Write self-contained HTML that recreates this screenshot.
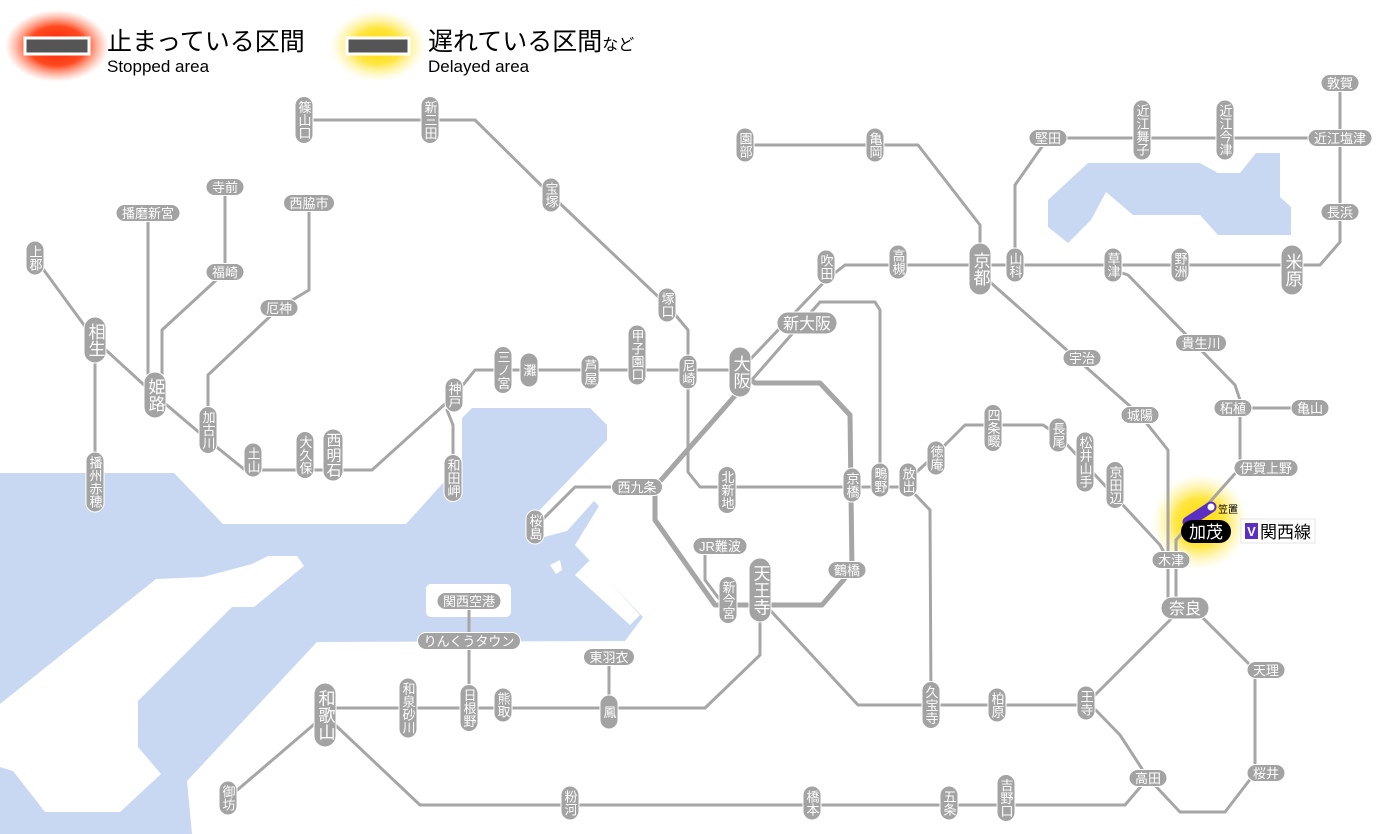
<!DOCTYPE html>
<html><head><meta charset="utf-8"><style>
html,body{margin:0;padding:0;background:#fff;}
svg{display:block;font-family:"Liberation Sans","Noto Sans CJK JP",sans-serif;}
.l{fill:none;stroke:#a6a6a6;stroke-width:3;stroke-linejoin:round;stroke-linecap:round;}
.ll{fill:none;stroke:#a6a6a6;stroke-width:5;stroke-linejoin:round;}
.s rect{fill:#a3a3a3;stroke:#fff;stroke-width:1;}
.s text{fill:#fff;font-size:13px;}
.v{writing-mode:vertical-rl;text-anchor:middle;}
.h{text-anchor:middle;}
.b{font-size:17px !important;}
</style></head><body>
<svg width="1400" height="834" viewBox="0 0 1400 834" xmlns="http://www.w3.org/2000/svg">
<defs>
<radialGradient id="rg"><stop offset="0" stop-color="#ff2000"/><stop offset="0.55" stop-color="#ff4a20"/><stop offset="1" stop-color="#ff8060" stop-opacity="0"/></radialGradient>
<radialGradient id="yg"><stop offset="0" stop-color="#ffd800"/><stop offset="0.5" stop-color="#ffe640"/><stop offset="1" stop-color="#fff3a0" stop-opacity="0"/></radialGradient>
</defs>
<!-- water -->
<g fill="#c9d8f2">
<polygon points="0,473 174,473 223,524 406,524 462,462 462,418 472,408 590,408 607,425 607,440 536,514 533,540 567,531 594,501 599,506 575,545 643,617 625,641 317,642 187,781 192,834 0,834"/>
<polygon points="1048,200 1088,163 1200,163 1218,173 1240,173 1256,153 1280,153 1280,197 1291,207 1291,235 1218,235 1200,215 1133,215 1106,192 1091,220 1068,243 1048,227"/>
</g>
<g fill="#fff">
<polygon points="0,704 156,579 203,577 252,564 268,556 297,556 304,566 254,607 232,607 138,701 138,747 161,774 120,812 45,812 13,771 0,767"/>
<rect x="426" y="584" width="85" height="33" rx="5"/>
<polygon points="550,565 560,560 562,570 556,574"/>
<polygon points="575,575 590,560 640,615 630,625"/>
</g>
<!-- legend -->
<ellipse cx="57" cy="46" rx="52" ry="36" fill="url(#rg)"/>
<rect x="25" y="38" width="64" height="16" fill="#555" stroke="#fff" stroke-width="3"/>
<text x="107" y="50" font-size="25" fill="#000">止まっている区間</text>
<text x="107" y="72" font-size="17" fill="#000">Stopped area</text>
<ellipse cx="378" cy="46" rx="48" ry="36" fill="url(#yg)"/>
<rect x="347" y="38" width="62" height="16" fill="#555" stroke="#fff" stroke-width="3"/>
<text x="428" y="50" font-size="25" fill="#000">遅れている区間<tspan font-size="16">など</tspan></text>
<text x="428" y="72" font-size="17" fill="#000">Delayed area</text>
<!-- kamo glow -->
<circle cx="1200" cy="522" r="48" fill="url(#yg)"/>
<!-- lines -->
<polyline class="l" points="304,120 475,120 551,195 667,305 688,330 688,472 700,487 908,487"/>
<polyline class="l" points="35,258 95,340 155,395 208,440 245,470 372,470 455,395 475,370 740,370"/>
<polyline class="l" points="447,410 453,425 453,478"/>
<polyline class="l" points="95,340 95,482"/>
<polyline class="l" points="148,213 148,395"/>
<polyline class="l" points="225,187 225,272 162,330 162,395"/>
<polyline class="l" points="309,203 309,290 279,308 208,375 208,430"/>
<polyline class="ll" points="740,372 755,383 820,383 850,415 852,570 822,605 715,605 655,520 655,487 740,390"/>
<polyline class="l" points="637,487 575,487 535,527"/>
<polyline class="l" points="740,370 826,280 845,265 1320,265 1340,242 1340,83"/>
<polyline class="l" points="750,382 820,302 875,302 880,310 880,480"/>
<polyline class="l" points="745,145 918,145 980,225 980,265"/>
<polyline class="l" points="1015,265 1015,185 1048,138 1340,138"/>
<polyline class="l" points="990,282 1140,415 1168,450 1168,608"/>
<polyline class="l" points="1113,270 1128,275 1235,385 1240,400 1240,468 1176,540 1176,608"/>
<polyline class="l" points="1240,408 1310,408"/>
<polyline class="l" points="1200,615 1255,670 1255,773 1225,812 1180,812 1148,778 1120,735 1086,700"/>
<polyline class="l" points="1175,615 1093,697"/>
<polyline class="l" points="770,610 858,705 1086,705"/>
<polyline class="l" points="908,487 930,510 931,705"/>
<polyline class="l" points="908,480 935,455 965,425 1043,425 1058,435 1160,545 1168,560"/>
<polyline class="l" points="705,546 705,580 720,600"/>
<polyline class="l" points="760,620 760,655 705,708 325,708"/>
<polyline class="l" points="609,657 609,708"/>
<polyline class="l" points="469,601 469,708"/>
<polyline class="l" points="325,715 228,798"/>
<polyline class="l" points="330,720 420,805 1125,805 1148,778"/>
<!-- stations vertical -->
<g class="s">
<rect x="295" y="96.5" width="18" height="47" rx="9"/><text class="v" x="304" y="120">篠山口</text>
<rect x="421" y="96.5" width="18" height="47" rx="9"/><text class="v" x="430" y="120">新三田</text>
<rect x="542" y="178" width="18" height="34" rx="9"/><text class="v" x="551" y="195">宝塚</text>
<rect x="658" y="288" width="18" height="34" rx="9"/><text class="v" x="667" y="305">塚口</text>
<rect x="679" y="355" width="18" height="34" rx="9"/><text class="v" x="688" y="372">尼崎</text>
<rect x="628" y="325" width="18" height="60" rx="9"/><text class="v" x="637" y="355">甲子園口</text>
<rect x="581" y="355" width="18" height="34" rx="9"/><text class="v" x="590" y="372">芦屋</text>
<rect x="520" y="353" width="18" height="34" rx="9"/><text class="v" x="529" y="370">灘</text>
<rect x="494" y="346.5" width="18" height="47" rx="9"/><text class="v" x="503" y="370">三ノ宮</text>
<rect x="445" y="378" width="18" height="34" rx="9"/><text class="v" x="454" y="395">神戸</text>
<rect x="444" y="454.5" width="18" height="47" rx="9"/><text class="v" x="453" y="478">和田岬</text>
<rect x="323" y="429" width="20" height="52" rx="10"/><text class="v" x="333" y="455" style="font-size:15px">西明石</text>
<rect x="296" y="431.5" width="18" height="47" rx="9"/><text class="v" x="305" y="455">大久保</text>
<rect x="244" y="443" width="18" height="34" rx="9"/><text class="v" x="253" y="460">土山</text>
<rect x="199" y="406.5" width="18" height="47" rx="9"/><text class="v" x="208" y="430">加古川</text>
<rect x="26" y="241" width="18" height="34" rx="9"/><text class="v" x="35" y="258">上郡</text>
<rect x="86" y="452" width="18" height="60" rx="9"/><text class="v" x="95" y="482">播州赤穂</text>
<rect x="817" y="250" width="18" height="34" rx="9"/><text class="v" x="826" y="267">吹田</text>
<rect x="889" y="245" width="18" height="34" rx="9"/><text class="v" x="898" y="262">高槻</text>
<rect x="1006" y="248" width="18" height="34" rx="9"/><text class="v" x="1015" y="265">山科</text>
<rect x="736" y="128" width="18" height="34" rx="9"/><text class="v" x="745" y="145">園部</text>
<rect x="866" y="128" width="18" height="34" rx="9"/><text class="v" x="875" y="145">亀岡</text>
<rect x="1133" y="100" width="18" height="60" rx="9"/><text class="v" x="1142" y="130">近江舞子</text>
<rect x="1216" y="100" width="18" height="60" rx="9"/><text class="v" x="1225" y="130">近江今津</text>
<rect x="1171" y="248" width="18" height="34" rx="9"/><text class="v" x="1180" y="265">野洲</text>
<rect x="1104" y="248" width="18" height="34" rx="9"/><text class="v" x="1113" y="265">草津</text>
<rect x="1077" y="686" width="18" height="34" rx="9"/><text class="v" x="1086" y="703">王寺</text>
<rect x="988" y="688" width="18" height="34" rx="9"/><text class="v" x="997" y="705">柏原</text>
<rect x="922" y="681.5" width="18" height="47" rx="9"/><text class="v" x="931" y="705">久宝寺</text>
<rect x="984" y="404.5" width="18" height="47" rx="9"/><text class="v" x="993" y="428">四条畷</text>
<rect x="927" y="441" width="18" height="34" rx="9"/><text class="v" x="936" y="458">徳庵</text>
<rect x="1049" y="418" width="18" height="34" rx="9"/><text class="v" x="1058" y="435">長尾</text>
<rect x="1076" y="432" width="18" height="60" rx="9"/><text class="v" x="1085" y="462">松井山手</text>
<rect x="1106" y="461.5" width="18" height="47" rx="9"/><text class="v" x="1115" y="485">京田辺</text>
<rect x="899" y="463" width="18" height="34" rx="9"/><text class="v" x="908" y="480">放出</text>
<rect x="871" y="463" width="18" height="34" rx="9"/><text class="v" x="880" y="480">鴫野</text>
<rect x="843" y="468" width="18" height="34" rx="9"/><text class="v" x="852" y="485">京橋</text>
<rect x="718" y="466.5" width="18" height="47" rx="9"/><text class="v" x="727" y="490">北新地</text>
<rect x="719" y="576.5" width="18" height="47" rx="9"/><text class="v" x="728" y="600">新今宮</text>
<rect x="526" y="510" width="18" height="34" rx="9"/><text class="v" x="535" y="527">桜島</text>
<rect x="600" y="695" width="18" height="34" rx="9"/><text class="v" x="609" y="712">鳳</text>
<rect x="494" y="688" width="18" height="34" rx="9"/><text class="v" x="503" y="705">熊取</text>
<rect x="460" y="684.5" width="18" height="47" rx="9"/><text class="v" x="469" y="708">日根野</text>
<rect x="399" y="678" width="18" height="60" rx="9"/><text class="v" x="408" y="708">和泉砂川</text>
<rect x="219" y="781" width="18" height="34" rx="9"/><text class="v" x="228" y="798">御坊</text>
<rect x="561" y="786" width="18" height="34" rx="9"/><text class="v" x="570" y="803">粉河</text>
<rect x="803" y="786" width="18" height="34" rx="9"/><text class="v" x="812" y="803">橋本</text>
<rect x="940" y="786" width="18" height="34" rx="9"/><text class="v" x="949" y="803">五条</text>
<rect x="997" y="774.5" width="18" height="47" rx="9"/><text class="v" x="1006" y="798">吉野口</text>
<!-- big vertical -->
<rect x="144" y="372" width="22" height="46" rx="11"/><text class="v b" x="155" y="395">姫路</text>
<rect x="84" y="317" width="22" height="46" rx="11"/><text class="v b" x="95" y="340">相生</text>
<rect x="729" y="347" width="22" height="50" rx="11"/><text class="v b" x="740" y="372">大阪</text>
<rect x="969" y="243" width="22" height="52" rx="11"/><text class="v b" x="980" y="269">京都</text>
<rect x="1281" y="245" width="22" height="50" rx="11"/><text class="v b" x="1292" y="270">米原</text>
<rect x="749" y="558" width="22" height="64" rx="11"/><text class="v b" x="760" y="590">天王寺</text>
<rect x="314" y="683" width="22" height="64" rx="11"/><text class="v b" x="325" y="715">和歌山</text>
<!-- horizontal -->
<rect x="116" y="204.5" width="64" height="17" rx="8.5"/><text class="h" x="148" y="218">播磨新宮</text>
<rect x="206" y="178.5" width="38" height="17" rx="8.5"/><text class="h" x="225" y="192">寺前</text>
<rect x="206" y="263.5" width="38" height="17" rx="8.5"/><text class="h" x="225" y="277">福崎</text>
<rect x="283.5" y="194.5" width="51" height="17" rx="8.5"/><text class="h" x="309" y="208">西脇市</text>
<rect x="260" y="299.5" width="38" height="17" rx="8.5"/><text class="h" x="279" y="313">厄神</text>
<rect x="1029" y="129.5" width="38" height="17" rx="8.5"/><text class="h" x="1048" y="143">堅田</text>
<rect x="1308" y="129.5" width="64" height="17" rx="8.5"/><text class="h" x="1340" y="143">近江塩津</text>
<rect x="1321" y="74.5" width="38" height="17" rx="8.5"/><text class="h" x="1340" y="88">敦賀</text>
<rect x="1321" y="203.5" width="38" height="17" rx="8.5"/><text class="h" x="1340" y="217">長浜</text>
<rect x="1063" y="349.5" width="38" height="17" rx="8.5"/><text class="h" x="1082" y="363">宇治</text>
<rect x="1175.5" y="334.5" width="51" height="17" rx="8.5"/><text class="h" x="1201" y="348">貴生川</text>
<rect x="1214" y="399.5" width="38" height="17" rx="8.5"/><text class="h" x="1233" y="413">柘植</text>
<rect x="1291" y="399.5" width="38" height="17" rx="8.5"/><text class="h" x="1310" y="413">亀山</text>
<rect x="1121" y="406.5" width="38" height="17" rx="8.5"/><text class="h" x="1140" y="420">城陽</text>
<rect x="1234" y="459.5" width="64" height="17" rx="8.5"/><text class="h" x="1266" y="473">伊賀上野</text>
<rect x="1152" y="551.5" width="38" height="17" rx="8.5"/><text class="h" x="1171" y="565">木津</text>
<rect x="1247" y="661.5" width="38" height="17" rx="8.5"/><text class="h" x="1266" y="675">天理</text>
<rect x="1247" y="764.5" width="38" height="17" rx="8.5"/><text class="h" x="1266" y="778">桜井</text>
<rect x="1129" y="769.5" width="38" height="17" rx="8.5"/><text class="h" x="1148" y="783">高田</text>
<rect x="828" y="561.5" width="38" height="17" rx="8.5"/><text class="h" x="847" y="575">鶴橋</text>
<rect x="693" y="537.5" width="54" height="17" rx="8.5"/><text class="h" x="720" y="551">JR難波</text>
<rect x="611.5" y="478.5" width="51" height="17" rx="8.5"/><text class="h" x="637" y="492">西九条</text>
<rect x="437" y="592.5" width="64" height="17" rx="8.5"/><text class="h" x="469" y="606">関西空港</text>
<rect x="417.5" y="632.5" width="103" height="17" rx="8.5"/><text class="h" x="469" y="646">りんくうタウン</text>
<rect x="583.5" y="648.5" width="51" height="17" rx="8.5"/><text class="h" x="609" y="662">東羽衣</text>
<rect x="777" y="312" width="60" height="22" rx="11"/><text class="h" x="807" y="329" style="font-size:16px">新大阪</text>
<rect x="1161" y="597" width="48" height="22" rx="11"/><text class="h" x="1185" y="614" style="font-size:16px">奈良</text>
</g>
<!-- Kamo -->
<line x1="1188" y1="522" x2="1211" y2="507" stroke="#5b2fc2" stroke-width="11" stroke-linecap="round"/>
<circle cx="1211" cy="507" r="3.5" fill="#fff"/>
<text x="1218" y="513" font-size="10" fill="#000">笠置</text>
<rect x="1181" y="520" width="50" height="23" rx="11.5" fill="#000"/>
<text x="1206" y="538" font-size="17" fill="#fff" text-anchor="middle">加茂</text>
<rect x="1241" y="519" width="74" height="24" fill="#fff" stroke="#e4e4e4" stroke-width="1"/>
<rect x="1245" y="523" width="13" height="16" fill="#5b2fc2"/>
<text x="1251.5" y="536" font-size="13" fill="#fff" text-anchor="middle" font-weight="bold">V</text>
<text x="1260" y="538" font-size="17" fill="#000">関西線</text>
</svg>
</body></html>
